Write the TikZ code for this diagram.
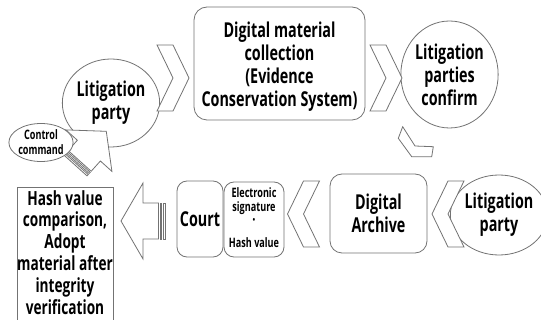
\documentclass[tikz,border=0pt]{standalone}
\usepackage{fontspec}
\setmainfont{Open Sans}[FakeStretch=0.7]
\usetikzlibrary{shapes.geometric}

\newcommand\bigtxt{\fontsize{20.5}{23}\selectfont\bfseries}
\newcommand\hashtxt{\fontsize{19.5}{21.8}\selectfont\bfseries}
\newcommand\smalltxt{\fontsize{13}{15}\selectfont\bfseries}
\newcommand\signtxt{\fontsize{13}{14}\selectfont\bfseries}

\tikzset{
  outl/.style={draw=black!55, line width=0.8pt, fill=white},
  party/.style={outl, ellipse, inner sep=0pt, align=center, font=\bigtxt},
  rbox/.style={outl, rounded corners=12pt, inner sep=0pt, align=center, font=\bigtxt},
  chevR/.pic={\draw[outl] (-16,-33) -- (0,-33) -- (16,0) -- (0,33) -- (-16,33) -- (0,0) -- cycle;},
}

\begin{document}
\begin{tikzpicture}[x=1pt, y=-1pt]
\useasboundingbox (0,0) rectangle (541,320);
\clip (0,0) rectangle (541,320);

% top row
\node[party, minimum width=81pt, minimum height=88pt] (party1) at (111,103) {Litigation\\party};
\node[rbox, minimum width=171pt, minimum height=113pt, rounded corners=13pt] (collect) at (279.5,63.5) {};
\node[align=center, font=\bigtxt, inner sep=0pt] (collecttxt) at (279.5,67) {Digital material\\collection\\(Evidence\\Conservation System)};
\node[party, minimum width=87pt, minimum height=107pt] (confirm) at (449.5,74.5) {Litigation\\parties\\confirm};

\pic at (173,78) {chevR};
\pic at (386,78) {chevR};

% turn down to the right
\draw[outl] (402.7,126.7) -- (415,146) -- (433.3,146.7) -- (431.7,156.7) -- (411.7,156.7) -- (398.3,138.3) -- cycle;

% bottom row
\node[party, minimum width=76pt, minimum height=80pt] (party2) at (499,215) {Litigation\\party};
\pic[xscale=-1] at (448,214) {chevR};
\node[rbox, minimum width=97pt, minimum height=79pt] (archive) at (378.5,213.5) {Digital\\Archive};
\pic[xscale=-1] at (303.5,214) {chevR};
\node[rbox, minimum width=60pt, minimum height=75pt, rounded corners=10pt] (sign) at (254,219.5) {};
\node[align=center, font=\signtxt, inner sep=0pt] (signtxt) at (254,218) {Electronic\\signature\\{\fontsize{16}{14}\selectfont·}\\[8pt]Hash value};
\node[rbox, minimum width=46pt, minimum height=76pt, rounded corners=10pt] (court) at (200,219) {Court};

% striped arrow into the result box
\begin{scope}[shift={(165,221)}, rotate=180]
\draw[outl] (0,-18) -- (2,-18) -- (2,18) -- (0,18) -- cycle;
\draw[outl] (3.5,-18) -- (5,-18) -- (5,18) -- (3.5,18) -- cycle;
\draw[outl] (6.5,-18) -- (22,-18) -- (22,-38) -- (44,0) -- (22,38) -- (22,18) -- (6.5,18) -- cycle;
\end{scope}

% result box runs off the bottom edge
\node[outl, anchor=north, minimum width=96pt, minimum height=150pt] (hash) at (65,187) {};
\node[anchor=north, inner sep=0pt, align=center, font=\hashtxt] (hashtxt) at (65,190) {Hash value\\comparison,\\Adopt\\material after\\integrity\\verification};

% striped arrow back up to the party
\begin{scope}[shift={(75.5,165.5)}, rotate=48]
\draw[outl] (0,-15.5) -- (1.8,-15.5) -- (1.8,15.5) -- (0,15.5) -- cycle;
\draw[outl] (3.2,-15.5) -- (4.8,-15.5) -- (4.8,15.5) -- (3.2,15.5) -- cycle;
\draw[outl] (6.2,-15.5) -- (20,-15.5) -- (20,-31) -- (46,0) -- (20,31) -- (20,15.5) -- (6.2,15.5) -- cycle;
\end{scope}

\node[party, minimum width=55pt, minimum height=38pt, font=\smalltxt] (ctrl) at (41,142.5) {Control\\command};

\end{tikzpicture}
\end{document}
